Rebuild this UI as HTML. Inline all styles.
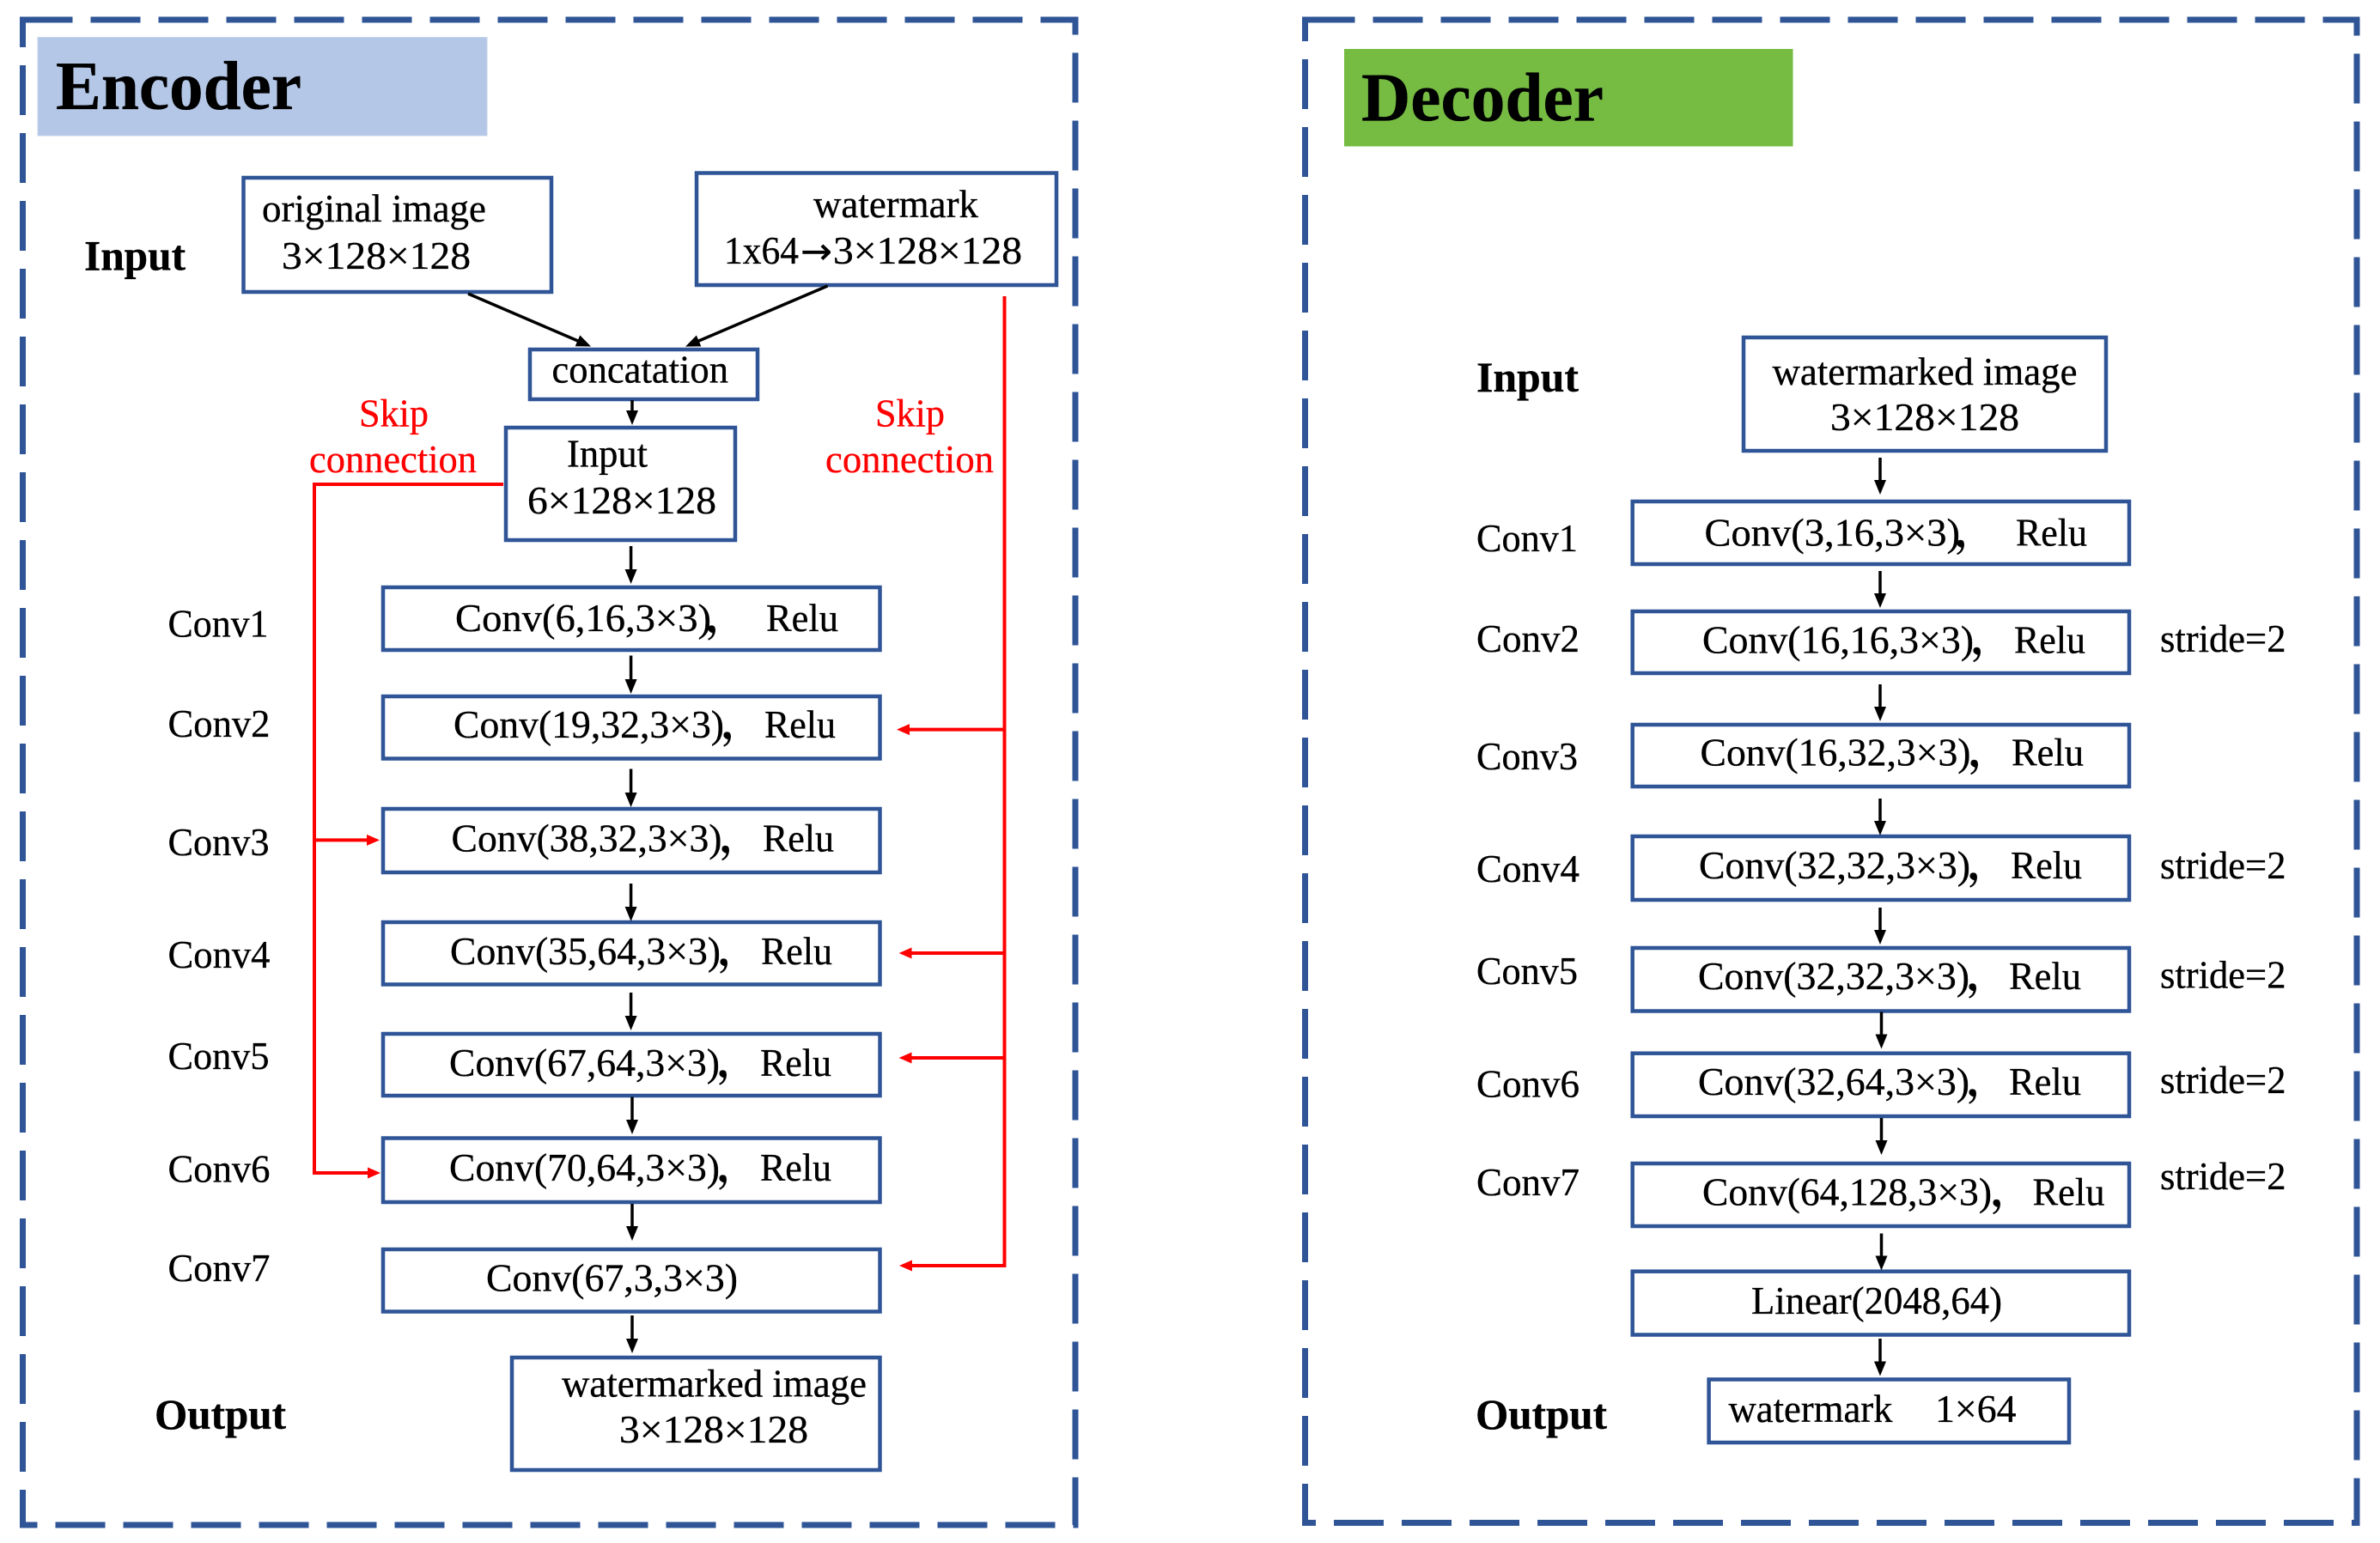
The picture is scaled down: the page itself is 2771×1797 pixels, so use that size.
<!DOCTYPE html>
<html lang="en">
<head>
<meta charset="utf-8">
<title>Encoder and Decoder</title>
<style>
html,body{margin:0;padding:0;background:#fff;width:2771px;height:1797px;overflow:hidden}
svg{display:block}
text{font-family:"Liberation Serif","Noto Serif CJK SC",serif;font-size:46px;fill:#000;stroke:#000;stroke-width:.35}
.b{font-weight:bold;font-size:50px}
.t{font-weight:bold;font-size:80px}
.r{fill:#f00;stroke:#f00}
.c{font-weight:bold}
.ar{font-family:"DejaVu Sans",sans-serif;font-size:42px}
.box{fill:#fff;stroke:#2F5597;stroke-width:4.5}
.dash{fill:none;stroke:#2F5597;stroke-width:7;stroke-dasharray:58 21}
.k{stroke:#000;stroke-width:3.5;fill:none;marker-end:url(#ak)}
.ra{stroke:#f00;stroke-width:4;fill:none;marker-end:url(#ar)}
</style>
</head>
<body>
<svg width="2771" height="1797" viewBox="0 0 2771 1797" xmlns="http://www.w3.org/2000/svg">
<defs>
<marker id="ak" markerUnits="userSpaceOnUse" markerWidth="18" markerHeight="16" refX="9" refY="8" orient="auto"><path d="M0,1 L17,8 L0,15 Z" fill="#000"/></marker>
<marker id="ar" markerUnits="userSpaceOnUse" markerWidth="16" markerHeight="14" refX="8" refY="7" orient="auto"><path d="M0,0.5 L15,7 L0,13.5 Z" fill="#f00"/></marker>
</defs>

<!-- panels -->
<rect class="dash" x="26.5" y="23" width="1225.5" height="1753"/>
<rect class="dash" x="1519.5" y="23" width="1224.5" height="1750.5"/>

<rect x="44" y="43.5" width="523" height="114.5" fill="#B4C7E7" stroke="#c5d3ea" stroke-width="1"/>
<text class="t" x="65" y="127" textLength="286" lengthAdjust="spacingAndGlyphs">Encoder</text>
<rect x="1565" y="57" width="522.5" height="113.5" fill="#76BC43"/>
<text class="t" x="1585" y="140.5" textLength="282" lengthAdjust="spacingAndGlyphs">Decoder</text>

<!-- encoder boxes -->
<rect class="box" x="283.5" y="207" width="358.5" height="133"/>
<rect class="box" x="811" y="201.5" width="419" height="130.5"/>
<rect class="box" x="617" y="407" width="265" height="58"/>
<rect class="box" x="589" y="498" width="267" height="131"/>
<rect class="box" x="446" y="684" width="578.5" height="73"/>
<rect class="box" x="446" y="811" width="578.5" height="72.5"/>
<rect class="box" x="446" y="942" width="578.5" height="74"/>
<rect class="box" x="446" y="1074" width="578.5" height="72.5"/>
<rect class="box" x="446" y="1204" width="578.5" height="72"/>
<rect class="box" x="446" y="1325.5" width="578.5" height="74.5"/>
<rect class="box" x="446" y="1455" width="578.5" height="72.5"/>
<rect class="box" x="596" y="1581" width="428.5" height="131"/>

<!-- encoder black arrows -->
<line class="k" x1="545" y1="342" x2="680.7" y2="400.4"/>
<line class="k" x1="963.5" y1="333" x2="805.4" y2="400.5"/>
<line class="k" x1="736" y1="466" x2="736" y2="487"/>
<line class="k" x1="734.6" y1="636" x2="734.6" y2="672"/>
<line class="k" x1="734.6" y1="763.5" x2="734.6" y2="800"/>
<line class="k" x1="734.6" y1="895.5" x2="734.6" y2="932"/>
<line class="k" x1="734.6" y1="1029" x2="734.6" y2="1065"/>
<line class="k" x1="734.6" y1="1156" x2="734.6" y2="1192"/>
<line class="k" x1="736" y1="1277.5" x2="736" y2="1313"/>
<line class="k" x1="736" y1="1402" x2="736" y2="1437"/>
<line class="k" x1="736" y1="1532" x2="736" y2="1568"/>

<!-- encoder red connectors -->
<polyline class="ra" points="586,564 366,564 366,1366 436,1366"/>
<line class="ra" x1="366" y1="978.4" x2="435" y2="978.4"/>
<polyline class="ra" points="1169.5,345 1169.5,1474 1054,1474"/>
<line class="ra" x1="1169.5" y1="849.6" x2="1051" y2="849.6"/>
<line class="ra" x1="1169.5" y1="1110" x2="1053.6" y2="1110"/>
<line class="ra" x1="1169.5" y1="1232" x2="1053.6" y2="1232"/>

<!-- encoder text -->
<text class="b" x="98" y="314.5" textLength="118" lengthAdjust="spacingAndGlyphs">Input</text>
<text x="305" y="258" textLength="261" lengthAdjust="spacingAndGlyphs">original image</text>
<text x="328" y="313" textLength="220" lengthAdjust="spacingAndGlyphs">3×128×128</text>
<text x="947" y="253" textLength="192" lengthAdjust="spacingAndGlyphs">watermark</text>
<text x="843" y="307" textLength="87" lengthAdjust="spacingAndGlyphs">1x64</text>
<text class="ar" x="932" y="307" textLength="37" lengthAdjust="spacingAndGlyphs">→</text>
<text x="970" y="307" textLength="220" lengthAdjust="spacingAndGlyphs">3×128×128</text>
<text x="642.5" y="445.5" textLength="205.5" lengthAdjust="spacingAndGlyphs">concatation</text>
<text class="r" x="418" y="496.5" textLength="81" lengthAdjust="spacingAndGlyphs">Skip</text>
<text class="r" x="360" y="550" textLength="195" lengthAdjust="spacingAndGlyphs">connection</text>
<text class="r" x="1019" y="496.5" textLength="81" lengthAdjust="spacingAndGlyphs">Skip</text>
<text class="r" x="961" y="550" textLength="196" lengthAdjust="spacingAndGlyphs">connection</text>
<text x="660" y="543.5" textLength="94" lengthAdjust="spacingAndGlyphs">Input</text>
<text x="614" y="598" textLength="220" lengthAdjust="spacingAndGlyphs">6×128×128</text>

<text x="195.5" y="741.5" textLength="117" lengthAdjust="spacingAndGlyphs">Conv1</text>
<text x="195.5" y="858" textLength="119" lengthAdjust="spacingAndGlyphs">Conv2</text>
<text x="195.5" y="996" textLength="118" lengthAdjust="spacingAndGlyphs">Conv3</text>
<text x="195.5" y="1127" textLength="119" lengthAdjust="spacingAndGlyphs">Conv4</text>
<text x="195.5" y="1245" textLength="118" lengthAdjust="spacingAndGlyphs">Conv5</text>
<text x="195.5" y="1376.5" textLength="119" lengthAdjust="spacingAndGlyphs">Conv6</text>
<text x="195.5" y="1492" textLength="119" lengthAdjust="spacingAndGlyphs">Conv7</text>

<text x="530" y="735" textLength="298" lengthAdjust="spacingAndGlyphs">Conv(6,16,3×3)</text><text class="c" x="822" y="735">，</text>
<text x="892" y="735" textLength="84" lengthAdjust="spacingAndGlyphs">Relu</text>
<text x="528" y="859" textLength="315" lengthAdjust="spacingAndGlyphs">Conv(19,32,3×3)</text><text class="c" x="840" y="859">，</text>
<text x="890" y="859" textLength="83" lengthAdjust="spacingAndGlyphs">Relu</text>
<text x="525.5" y="991.5" textLength="315" lengthAdjust="spacingAndGlyphs">Conv(38,32,3×3)</text><text class="c" x="838" y="991.5">，</text>
<text x="888" y="991.5" textLength="83" lengthAdjust="spacingAndGlyphs">Relu</text>
<text x="524" y="1123" textLength="315" lengthAdjust="spacingAndGlyphs">Conv(35,64,3×3)</text><text class="c" x="836" y="1123">，</text>
<text x="886" y="1123" textLength="83" lengthAdjust="spacingAndGlyphs">Relu</text>
<text x="523" y="1253" textLength="315" lengthAdjust="spacingAndGlyphs">Conv(67,64,3×3)</text><text class="c" x="835" y="1253">，</text>
<text x="885" y="1253" textLength="83" lengthAdjust="spacingAndGlyphs">Relu</text>
<text x="523" y="1375" textLength="315" lengthAdjust="spacingAndGlyphs">Conv(70,64,3×3)</text><text class="c" x="835" y="1375">，</text>
<text x="885" y="1375" textLength="83" lengthAdjust="spacingAndGlyphs">Relu</text>
<text x="566" y="1503.5" textLength="293" lengthAdjust="spacingAndGlyphs">Conv(67,3,3×3)</text>

<text class="b" x="180" y="1664" textLength="153" lengthAdjust="spacingAndGlyphs">Output</text>
<text x="654" y="1626.5" textLength="355" lengthAdjust="spacingAndGlyphs">watermarked image</text>
<text x="721" y="1680" textLength="220" lengthAdjust="spacingAndGlyphs">3×128×128</text>

<!-- decoder boxes -->
<rect class="box" x="2030" y="393" width="422" height="132"/>
<rect class="box" x="1900.7" y="584" width="578.3" height="73"/>
<rect class="box" x="1900.7" y="712" width="578.3" height="72"/>
<rect class="box" x="1900.7" y="844" width="578.3" height="72"/>
<rect class="box" x="1900.7" y="974" width="578.3" height="74"/>
<rect class="box" x="1900.7" y="1104" width="578.3" height="73.5"/>
<rect class="box" x="1900.7" y="1226.7" width="578.3" height="73.3"/>
<rect class="box" x="1900.7" y="1355" width="578.3" height="73"/>
<rect class="box" x="1900.7" y="1480.7" width="578.3" height="73.8"/>
<rect class="box" x="1989.6" y="1606.5" width="419.4" height="73.5"/>

<!-- decoder arrows -->
<line class="k" x1="2189" y1="533" x2="2189" y2="568"/>
<line class="k" x1="2189" y1="665" x2="2189" y2="700"/>
<line class="k" x1="2189" y1="797" x2="2189" y2="832"/>
<line class="k" x1="2189" y1="930" x2="2189" y2="965"/>
<line class="k" x1="2189" y1="1057" x2="2189" y2="1092"/>
<line class="k" x1="2190.5" y1="1178.5" x2="2190.5" y2="1213.5"/>
<line class="k" x1="2190.5" y1="1302" x2="2190.5" y2="1337"/>
<line class="k" x1="2190.5" y1="1436.5" x2="2190.5" y2="1471.5"/>
<line class="k" x1="2189" y1="1559" x2="2189" y2="1594.5"/>

<!-- decoder text -->
<text class="b" x="1719" y="456" textLength="119" lengthAdjust="spacingAndGlyphs">Input</text>
<text x="2063.5" y="448" textLength="355" lengthAdjust="spacingAndGlyphs">watermarked image</text>
<text x="2131" y="501" textLength="220" lengthAdjust="spacingAndGlyphs">3×128×128</text>

<text x="1719" y="642" textLength="118" lengthAdjust="spacingAndGlyphs">Conv1</text>
<text x="1719" y="759" textLength="120" lengthAdjust="spacingAndGlyphs">Conv2</text>
<text x="1719" y="896" textLength="118" lengthAdjust="spacingAndGlyphs">Conv3</text>
<text x="1719" y="1027" textLength="120" lengthAdjust="spacingAndGlyphs">Conv4</text>
<text x="1719" y="1146" textLength="118" lengthAdjust="spacingAndGlyphs">Conv5</text>
<text x="1719" y="1277.5" textLength="120" lengthAdjust="spacingAndGlyphs">Conv6</text>
<text x="1719" y="1392" textLength="120" lengthAdjust="spacingAndGlyphs">Conv7</text>

<text x="1984.5" y="635.5" textLength="297.5" lengthAdjust="spacingAndGlyphs">Conv(3,16,3×3)</text><text class="c" x="2276" y="635.5">，</text>
<text x="2347" y="635.5" textLength="83" lengthAdjust="spacingAndGlyphs">Relu</text>
<text x="1982" y="760.5" textLength="316" lengthAdjust="spacingAndGlyphs">Conv(16,16,3×3)</text><text class="c" x="2295" y="760.5">，</text>
<text x="2345" y="760.5" textLength="83" lengthAdjust="spacingAndGlyphs">Relu</text>
<text x="1979.5" y="891.5" textLength="315" lengthAdjust="spacingAndGlyphs">Conv(16,32,3×3)</text><text class="c" x="2292" y="891.5">，</text>
<text x="2342" y="891.5" textLength="84" lengthAdjust="spacingAndGlyphs">Relu</text>
<text x="1978" y="1023" textLength="316" lengthAdjust="spacingAndGlyphs">Conv(32,32,3×3)</text><text class="c" x="2291" y="1023">，</text>
<text x="2341" y="1023" textLength="83" lengthAdjust="spacingAndGlyphs">Relu</text>
<text x="1977" y="1152" textLength="316" lengthAdjust="spacingAndGlyphs">Conv(32,32,3×3)</text><text class="c" x="2290" y="1152">，</text>
<text x="2339" y="1152" textLength="84" lengthAdjust="spacingAndGlyphs">Relu</text>
<text x="1977" y="1275" textLength="316" lengthAdjust="spacingAndGlyphs">Conv(32,64,3×3)</text><text class="c" x="2290" y="1275">，</text>
<text x="2339" y="1275" textLength="84" lengthAdjust="spacingAndGlyphs">Relu</text>
<text x="1982" y="1403.5" textLength="337" lengthAdjust="spacingAndGlyphs">Conv(64,128,3×3)</text><text class="c" x="2318" y="1403.5">，</text>
<text x="2366.5" y="1403.5" textLength="84" lengthAdjust="spacingAndGlyphs">Relu</text>
<text x="2039" y="1530" textLength="292" lengthAdjust="spacingAndGlyphs">Linear(2048,64)</text>

<text x="2515" y="759" textLength="146.5" lengthAdjust="spacingAndGlyphs">stride=2</text>
<text x="2515" y="1023" textLength="146.5" lengthAdjust="spacingAndGlyphs">stride=2</text>
<text x="2515" y="1150.5" textLength="146.5" lengthAdjust="spacingAndGlyphs">stride=2</text>
<text x="2515" y="1273" textLength="146.5" lengthAdjust="spacingAndGlyphs">stride=2</text>
<text x="2515" y="1385" textLength="146.5" lengthAdjust="spacingAndGlyphs">stride=2</text>

<text class="b" x="1718" y="1664" textLength="153" lengthAdjust="spacingAndGlyphs">Output</text>
<text x="2012.5" y="1656" textLength="191" lengthAdjust="spacingAndGlyphs">watermark</text>
<text x="2253" y="1656" textLength="94.5" lengthAdjust="spacingAndGlyphs">1×64</text>
</svg>
</body>
</html>
